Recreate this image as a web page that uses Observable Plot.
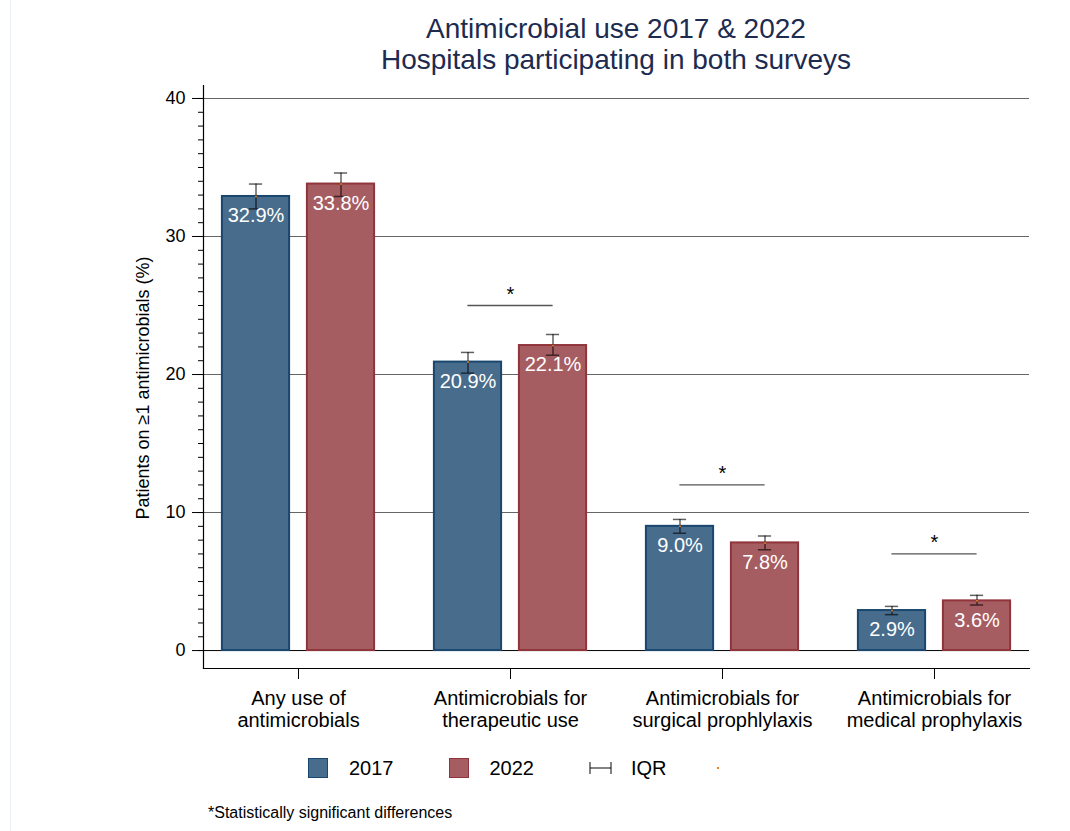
<!DOCTYPE html>
<html>
<head>
<meta charset="utf-8">
<script src="https://cdn.jsdelivr.net/npm/d3@7"></script>
<script src="https://cdn.jsdelivr.net/npm/@observablehq/plot@0.6"></script>
<style>
  body { margin: 0; background: #fff; font-family: "Liberation Sans", Arial, sans-serif; }
  #page { position: relative; width: 1070px; height: 831px; overflow: hidden; }
  #edge { position: absolute; left: 10px; top: 0; width: 1px; height: 831px; background: #eaeff4; }
  #title { position: absolute; left: 203px; width: 826px; top: 13px; text-align: center;
           font-size: 28px; line-height: 31px; color: #1c2b4f; }
  #chart { position: absolute; left: 0; top: 80px; }
  #legend { position: absolute; left: 308px; top: 756px; height: 24px; display: flex; align-items: center;
            font-size: 20px; color: #000; }
  #legend .sw { width: 18px; height: 18px; border: 1px solid; box-sizing: content-box; }
  #caption { position: absolute; left: 208px; top: 804px; font-size: 16px; line-height: 18px; color: #000; }
</style>
</head>
<body>
<div id="page">
  <div id="edge"></div>
  <div id="title"></div>
  <div id="chart"></div>
  <div id="legend"></div>
  <div id="caption"></div>
</div>
<script>
// ---- Data ----
const titleLines = ["Antimicrobial use 2017 & 2022", "Hospitals participating in both surveys"];
const yLabel = "Patients on \u22651 antimicrobials (%)";
const captionText = "*Statistically significant differences";
const categories = [
  "Any use of\nantimicrobials",
  "Antimicrobials for\ntherapeutic use",
  "Antimicrobials for\nsurgical prophlylaxis",
  "Antimicrobials for\nmedical prophylaxis"
];
const years = ["2017", "2022"];
const values2017 = [32.9, 20.9, 9.0, 2.9];
const values2022 = [33.8, 22.1, 7.8, 3.6];
const iqrLow2017 = [32.0, 20.1, 8.5, 2.6];
const iqrHigh2017 = [33.8, 21.6, 9.5, 3.2];
const iqrLow2022 = [32.9, 21.4, 7.3, 3.3];
const iqrHigh2022 = [34.6, 22.9, 8.3, 4.0];
const significant = [false, true, true, true];
const sigLineLevel = [null, 25, 12, 7];
const yTicks = [0, 10, 20, 30, 40];
const yMinorTicks = d3.range(0, 41, 1);
const legendLabels = ["2017", "2022", "IQR"];

// ---- Styles / layout ----
const fills = ["#486c8c", "#a65d62"];
const strokes = ["#1a476f", "#90353b"];
const font = "'Liberation Sans', Arial, sans-serif";
const W = 1070, H = 660, mL = 203, mR = 41, mT = 5, mB = 72;
const padInner = 0.105;
const bandwidth = ((W - mL - mR) / (categories.length - padInner)) * (1 - padInner);
const dodge = 42.5;     // half distance between the two bars' centres
const barW = 67;
const capW = 13;
const barInset = (bandwidth - barW) / 2;
const capInset = (bandwidth - capW) / 2;
const sigInset = bandwidth / 2 - dodge;
const whisker = {stroke: "#000", strokeOpacity: 0.62, strokeWidth: 1.5};

// ---- Tables built from the arrays ----
const rows = categories.flatMap((cat, i) => [
  {cat, k: 0, year: years[0], value: values2017[i], lo: iqrLow2017[i], hi: iqrHigh2017[i]},
  {cat, k: 1, year: years[1], value: values2022[i], lo: iqrLow2022[i], hi: iqrHigh2022[i]}
]);
const sigRows = categories
  .map((cat, i) => ({cat, level: sigLineLevel[i], sig: significant[i]}))
  .filter(d => d.sig);

document.getElementById("title").innerHTML = titleLines.join("<br>");
document.getElementById("caption").textContent = captionText;

const perYear = (k) => {
  const f = {filter: d => d.k === k, dx: k === 0 ? -dodge : dodge};
  return [
    Plot.barY(rows, {...f, x: "cat", y: "value", fill: fills[k], stroke: strokes[k], strokeWidth: 2,
                     insetLeft: barInset, insetRight: barInset}),
    Plot.ruleX(rows, {...f, x: "cat", y1: "lo", y2: "hi", ...whisker}),
    Plot.tickY(rows, {...f, x: "cat", y: "lo", insetLeft: capInset, insetRight: capInset, ...whisker}),
    Plot.tickY(rows, {...f, x: "cat", y: "hi", insetLeft: capInset, insetRight: capInset, ...whisker}),
    Plot.dot(rows, {...f, x: "cat", y: "value", r: 1, fill: "#e8821e", stroke: null}),
    Plot.text(rows, {filter: f.filter, x: "cat", y: "value", text: d => d.value.toFixed(1) + "%",
                     dx: f.dx, dy: 19.5, fill: "#fff", fontSize: 20})
  ];
};

const chart = Plot.plot({
  width: W, height: H,
  marginLeft: mL, marginRight: mR, marginTop: mT, marginBottom: mB,
  style: {fontFamily: font, background: "transparent", color: "#000", overflow: "visible"},
  x: {domain: categories, paddingInner: padInner, paddingOuter: 0, label: null},
  y: {domain: [-1.3, 40.94], label: null},
  marks: [
    Plot.ruleY(yTicks.slice(1), {stroke: "#666", strokeWidth: 1.1}),
    Plot.ruleY([0], {stroke: "#000", strokeWidth: 1}),
    Plot.frame({anchor: "left", stroke: "#000", strokeWidth: 1.2}),
    Plot.frame({anchor: "bottom", stroke: "#000", strokeWidth: 1.2}),
    Plot.axisY(yTicks, {tickSize: 11, tickPadding: 7, fontSize: 18, label: null}),
    Plot.axisY(yMinorTicks, {tickSize: 5, tickFormat: () => "", label: null}),
    Plot.axisX({anchor: "bottom", tickSize: 11, tickPadding: 10, fontSize: 20, lineHeight: 1.1, label: null}),
    ...perYear(0),
    ...perYear(1),
    Plot.tickY(sigRows, {x: "cat", y: "level", insetLeft: sigInset, insetRight: sigInset, stroke: "#555", strokeWidth: 1.3}),
    Plot.text(sigRows, {x: "cat", y: "level", text: () => "*", dy: -11, fontSize: 20, fill: "#000"}),
    Plot.text([yLabel], {frameAnchor: "left", text: d => d, rotate: -90, dx: -60, dy: 11,
                         textAnchor: "middle", fontSize: 18, fill: "#000"})
  ]
});
document.getElementById("chart").appendChild(chart);

// ---- Legend ----
const legend = document.getElementById("legend");
function addSwatch(k) {
  const s = document.createElement("span");
  s.className = "sw";
  s.style.background = fills[k];
  s.style.borderColor = strokes[k];
  s.style.marginRight = "21px";
  legend.appendChild(s);
}
function addLabel(t, mr) {
  const l = document.createElement("span");
  l.textContent = t;
  l.style.marginRight = mr + "px";
  legend.appendChild(l);
}
addSwatch(0); addLabel(legendLabels[0], 55);
addSwatch(1); addLabel(legendLabels[1], 55);
const ns = "http://www.w3.org/2000/svg";
const g = document.createElementNS(ns, "svg");
g.setAttribute("width", 23); g.setAttribute("height", 14);
g.style.marginRight = "19px";
g.innerHTML = '<g stroke="#000" stroke-opacity="0.7" stroke-width="1.4" fill="none">' +
  '<line x1="1" y1="7" x2="22" y2="7"/><line x1="1" y1="1" x2="1" y2="13"/><line x1="22" y1="1" x2="22" y2="13"/></g>';
legend.appendChild(g);
addLabel(legendLabels[2], 50);
const dot = document.createElement("span");
dot.style.cssText = "width:2px;height:2px;background:#e8821e;display:inline-block;";
legend.appendChild(dot);
</script>
</body>
</html>
